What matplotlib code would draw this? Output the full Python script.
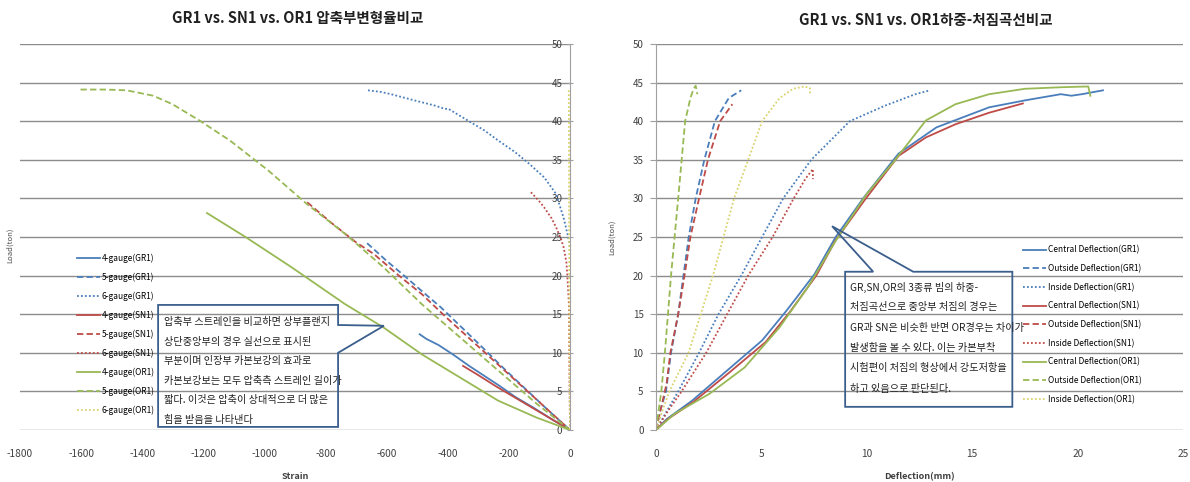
import numpy as np
import matplotlib
matplotlib.use('Agg')
from matplotlib import pyplot as plt
from matplotlib.patches import Polygon

plt.rcParams['font.family'] = ['Noto Sans CJK KR', 'DejaVu Sans']
plt.rcParams['axes.unicode_minus'] = False

# colours per specimen
BLUE = '#4A7EBB'
RED = '#BE4B48'
GREEN = '#98B954'
YELLOW = '#D9D36E'

# ---- left chart: strain vs load ----
left_labels = ['4-gauge(GR1)', '5-gauge(GR1)', '6-gauge(GR1)',
               '4-gauge(SN1)', '5-gauge(SN1)', '6-gauge(SN1)',
               '4-gauge(OR1)', '5-gauge(OR1)', '6-gauge(OR1)']

g4_gr1_x = [-492, -470, -430, -380, -330, -280, -230, -180, -120, -60, 0]
g4_gr1_y = [12.4, 11.8, 11.0, 9.7, 8.3, 7.0, 5.7, 4.3, 2.9, 1.4, 0]
g5_gr1_x = [-664, -600, -540, -485, -423, -360, -297, -220, -140, -70, 0]
g5_gr1_y = [24.2, 21.9, 19.9, 18.0, 15.9, 13.5, 11.1, 8.1, 5.1, 2.5, 0]
g6_gr1_x = [-661, -620, -586, -500, -440, -410, -398, -335, -280, -235, -180, -134, -84, -46, -21, -3, 0]
g6_gr1_y = [44.0, 43.8, 43.5, 42.6, 42.0, 41.6, 41.6, 40.1, 38.8, 37.5, 36.0, 34.5, 32.7, 30.6, 27.5, 24.5, 23.5]

g4_sn1_x = [-350, -300, -240, -180, -120, -60, 0]
g4_sn1_y = [8.3, 7.1, 5.6, 4.2, 2.8, 1.4, 0]
g5_sn1_x = [-860, -780, -700, -642, -560, -485, -400, -297, -200, -100, 0]
g5_sn1_y = [29.5, 26.8, 24.3, 22.8, 20.0, 17.6, 14.4, 10.7, 7.2, 3.6, 0]
g6_sn1_x = [-128, -100, -84, -60, -46, -30, -21, -15, -12, -9, -6, -3, -2, 0]
g6_sn1_y = [30.8, 29.6, 28.8, 27.4, 26.3, 24.8, 23.7, 22.4, 21.8, 20.2, 18.0, 15.9, 8.0, 0]

g4_or1_x = [-1188, -1062, -912, -736, -611, -485, -360, -235, -109, 0]
g4_or1_y = [28.1, 25.0, 21.1, 16.3, 13.3, 9.8, 6.8, 3.8, 1.6, 0]
g5_or1_x = [-1602, -1520, -1451, -1364, -1301, -1213, -1113, -987, -862, -736, -611, -485, -360, -235, -109, 0]
g5_or1_y = [44.1, 44.1, 44.0, 43.3, 42.2, 40.1, 37.5, 33.6, 29.3, 25.4, 21.1, 16.3, 12.0, 7.7, 3.4, 0]
g6_or1_x = [-4, -3, -3, -2, -1, 0]
g6_or1_y = [44.0, 35.0, 25.0, 15.0, 5.0, 0]

# ---- right chart: deflection vs load ----
right_labels = ['Central Deflection(GR1)', 'Outside Deflection(GR1)', 'Inside Deflection(GR1)',
                'Central Deflection(SN1)', 'Outside Deflection(SN1)', 'Inside Deflection(SN1)',
                'Central Deflection(OR1)', 'Outside Deflection(OR1)', 'Inside Deflection(OR1)']

c_gr1_x = [0, 0.5, 1.71, 3.37, 5.03, 6.2, 7.52, 8.52, 9.85, 11.5, 13.3, 15.8, 17.5, 19.2, 19.7, 20.2, 21.2]
c_gr1_y = [0, 1.4, 3.8, 7.7, 11.6, 15.5, 20.2, 25.0, 30.1, 35.8, 39.2, 41.8, 42.7, 43.5, 43.3, 43.5, 44.0]
o_gr1_x = [0, 0.2, 0.47, 0.71, 1.05, 1.3, 1.55, 1.88, 2.29, 2.79, 3.45, 4.04]
o_gr1_y = [0, 2.5, 5.0, 10.0, 15.0, 20.0, 25.0, 30.0, 35.0, 40.0, 43.0, 44.0]
i_gr1_x = [0, 0.5, 1.05, 2.04, 2.96, 4.04, 5.03, 6.03, 7.36, 9.19, 10.85, 12.3, 13.0]
i_gr1_y = [0, 2.4, 5.0, 10.0, 15.0, 20.0, 25.0, 30.0, 35.0, 40.0, 42.0, 43.5, 44.0]

c_sn1_x = [0, 0.55, 1.8, 3.5, 5.2, 6.35, 7.6, 8.5, 9.9, 11.5, 12.8, 14.2, 15.8, 17.4]
c_sn1_y = [0, 1.4, 3.7, 7.5, 11.4, 15.3, 20.0, 24.5, 29.8, 35.5, 37.9, 39.6, 41.1, 42.3]
o_sn1_x = [0, 0.25, 0.5, 0.68, 1.05, 1.35, 1.63, 2.04, 2.46, 3.04, 3.62]
o_sn1_y = [0, 3.0, 6.0, 10.0, 15.0, 20.0, 25.0, 30.0, 35.0, 40.0, 42.2]
i_sn1_x = [0, 0.55, 1.21, 2.38, 3.37, 4.37, 5.53, 6.53, 7.1, 7.44, 7.44]
i_sn1_y = [0, 2.4, 5.0, 10.0, 15.0, 20.0, 25.0, 30.0, 32.6, 33.8, 32.5]

c_or1_x = [0, 0.88, 2.54, 4.2, 5.86, 7.2, 8.52, 10.0, 11.2, 12.8, 14.2, 15.8, 17.5, 19.2, 20.5, 20.6]
c_or1_y = [0, 2.1, 4.7, 8.1, 13.3, 18.5, 24.5, 30.6, 34.5, 40.1, 42.2, 43.5, 44.2, 44.4, 44.5, 43.3]
o_or1_x = [0, 0.12, 0.25, 0.42, 0.71, 1.05, 1.38, 1.63, 1.78, 1.88, 1.96]
o_or1_y = [0, 2.5, 5.0, 10.0, 20.0, 30.0, 40.0, 43.0, 44.2, 44.6, 43.5]
i_or1_x = [0, 0.3, 0.63, 1.54, 2.7, 3.7, 4.37, 5.03, 5.86, 6.5, 7.03, 7.3, 7.3]
i_or1_y = [0, 2.5, 5.0, 10.0, 20.0, 30.0, 35.0, 40.0, 43.0, 44.2, 44.5, 44.3, 43.5]

left_note = ['압축부 스트레인을 비교하면 상부플랜지',
             '상단중앙부의 경우 실선으로 표시된',
             '부분이며 인장부 카본보강의 효과로',
             '카본보강보는 모두 압축측 스트레인 길이가',
             '짧다. 이것은 압축이 상대적으로 더 많은',
             '힘을 받음을 나타낸다']
right_note = ['GR,SN,OR의 3종류 빔의 하중-',
              '처짐곡선으로 중앙부 처짐의 경우는',
              'GR과 SN은 비슷한 반면 OR경우는 차이가',
              '발생함을 볼 수 있다. 이는 카본부착',
              '시험편이 처짐의 형상에서 강도저항을',
              '하고 있음으로 판단된다.']

styles = [(BLUE, '-'), (BLUE, (0, (3.5, 1.8))), (BLUE, (0, (1, 1.2))),
          (RED, '-'), (RED, (0, (3.5, 1.8))), (RED, (0, (1, 1.2))),
          (GREEN, '-'), (GREEN, (0, (3.5, 1.8))), (YELLOW, (0, (1, 1.2)))]

left_series = [(g4_gr1_x, g4_gr1_y), (g5_gr1_x, g5_gr1_y), (g6_gr1_x, g6_gr1_y),
               (g4_sn1_x, g4_sn1_y), (g5_sn1_x, g5_sn1_y), (g6_sn1_x, g6_sn1_y),
               (g4_or1_x, g4_or1_y), (g5_or1_x, g5_or1_y), (g6_or1_x, g6_or1_y)]
right_series = [(c_gr1_x, c_gr1_y), (o_gr1_x, o_gr1_y), (i_gr1_x, i_gr1_y),
                (c_sn1_x, c_sn1_y), (o_sn1_x, o_sn1_y), (i_sn1_x, i_sn1_y),
                (c_or1_x, c_or1_y), (o_or1_x, o_or1_y), (i_or1_x, i_or1_y)]

GRID = '#8C8C8C'
TICKC = '#404040'
BOXC = '#3B5E8C'

fig = plt.figure(figsize=(11.9, 4.82), dpi=100)
ax1 = fig.add_axes([0.0168, 0.1079, 0.4622, 0.8008])
ax2 = fig.add_axes([0.5513, 0.1079, 0.4429, 0.8008])

def style_axes(ax):
    for s in ax.spines.values():
        s.set_visible(False)
    ax.set_ylim(0, 50)
    ax.set_yticks(np.arange(0, 51, 5))
    ax.yaxis.grid(True, color=GRID, linewidth=1.0)
    ax.set_axisbelow(True)
    ax.tick_params(axis='x', length=0, labelsize=7.3, colors=TICKC, pad=14)
    ax.tick_params(axis='y', labelsize=7, colors=TICKC)

# left
for (x, y), (c, ls), lab in zip(left_series, styles, left_labels):
    ax1.plot(x, y, color=c, linestyle=ls, linewidth=1.3, label=lab)
style_axes(ax1)
ax1.set_xlim(-1800, 0)
ax1.set_xticks(np.arange(-1800, 1, 200))
ax1.spines['right'].set_visible(True)
ax1.spines['right'].set_color('#A0A0A0')
ax1.yaxis.tick_right()
ax1.tick_params(axis='y', direction='inout', length=5, pad=-8, color='#A0A0A0')
for t in ax1.get_yticklabels():
    t.set_horizontalalignment('right')
ax1.set_xlabel('Strain', fontsize=6.5, fontweight='bold', color=TICKC, labelpad=9)
fig.text(10 / 1190, 1 - 245 / 482, 'Load(ton)', rotation=90, fontsize=5.5,
         color='#505050', ha='center', va='center')
ax1.legend(loc='upper left', bbox_to_anchor=(0.097, 0.465), frameon=False,
           fontsize=6, handlelength=2.8, labelspacing=1.15, handletextpad=0.2,
           borderaxespad=0)

# right
for (x, y), (c, ls), lab in zip(right_series, styles, right_labels):
    ax2.plot(x, y, color=c, linestyle=ls, linewidth=1.3, label=lab)
style_axes(ax2)
ax2.set_xlim(0, 25)
ax2.set_xticks(np.arange(0, 26, 5))
ax2.spines['left'].set_visible(True)
ax2.spines['left'].set_color('#A0A0A0')
ax2.tick_params(axis='y', direction='out', length=4, color='#A0A0A0', pad=5)
ax2.set_xlabel('Deflection(mm)', fontsize=6.5, fontweight='bold', color=TICKC, labelpad=9)
ax2.set_ylabel('Load(ton)', fontsize=5.5, color='#505050', labelpad=12)
ax2.legend(loc='upper left', bbox_to_anchor=(0.69, 0.487), frameon=False,
           fontsize=6, handlelength=2.8, labelspacing=1.15, handletextpad=0.2,
           borderaxespad=0)

# callouts
def callout(ax, verts, lines, x0, y0, dy):
    ax.add_patch(Polygon(verts, closed=True, facecolor='none', edgecolor=BOXC,
                         linewidth=1.3, zorder=5))
    for i, s in enumerate(lines):
        ax.text(x0, y0 - i * dy, s, fontsize=7.3, color='#202020', va='center',
                ha='left', zorder=6)

callout(ax1, [(-1348, 0.4), (-759, 0.4), (-759, 10.0), (-609, 13.5), (-759, 13.6),
              (-759, 16.2), (-1348, 16.2)],
        left_note, -1330, 14.0, 2.54)
callout(ax2, [(8.97, 3.0), (16.9, 3.0), (16.9, 20.5), (12.2, 20.5), (8.35, 26.4),
              (10.3, 20.5), (8.97, 20.5)],
        right_note, 9.2, 18.5, 2.63)

fig.text(298 / 1190, 1 - 18 / 482, 'GR1 vs. SN1 vs. OR1 압축부변형율비교',
         fontsize=10.5, fontweight='bold', color='#202020', ha='center', va='center')
fig.text(926 / 1190, 1 - 20 / 482, 'GR1 vs. SN1 vs. OR1하중-처짐곡선비교',
         fontsize=10.5, fontweight='bold', color='#202020', ha='center', va='center')

fig.savefig('out.png', dpi=100, facecolor='white')
